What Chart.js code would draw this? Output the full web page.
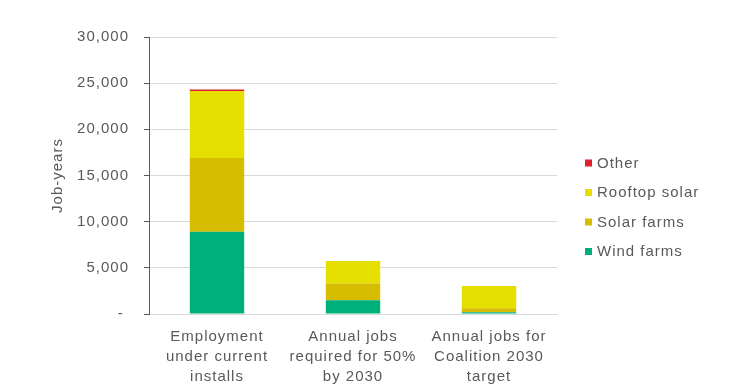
<!DOCTYPE html>
<html>
<head>
<meta charset="utf-8">
<script src="https://cdn.jsdelivr.net/npm/chart.js@4"></script>
<style>
html,body{margin:0;padding:0;background:#fff;}
#wrap{width:752px;height:386px;}
</style>
</head>
<body>
<div id="wrap"><canvas id="c" width="752" height="386"></canvas></div>
<script>
const categories = [
  ["Employment", "under current", "installs"],
  ["Annual jobs", "required for 50%", "by 2030"],
  ["Annual jobs for", "Coalition 2030", "target"]
];
const windFarms = [8900, 1500, 180];
const solarFarms = [8000, 1800, 440];
const rooftopSolar = [7250, 2450, 2400];
const other = [170, 0, 0];
const yTicks = [0, 5000, 10000, 15000, 20000, 25000, 30000];
const seriesNames = ["Wind farms", "Solar farms", "Rooftop solar", "Other"];
const seriesColors = ["#00B07B", "#D6BD00", "#E5DF00", "#E0202B"];

const FONT = "'Liberation Sans', Arial, sans-serif";
const TXT = "#595959";

const canvas = document.getElementById('c');

const spacingPlugin = {
  id: 'spacing',
  beforeDraw(chart) { chart.ctx.letterSpacing = '1px'; },
  afterDraw(chart) { chart.ctx.letterSpacing = '0px'; }
};

const legendPlugin = {
  id: 'customLegend',
  afterDraw(chart) {
    const ctx = chart.ctx;
    const ds = chart.data.datasets;
    ctx.save();
    ctx.letterSpacing = '1px';
    ctx.font = "15px " + FONT;
    ctx.textBaseline = 'middle';
    ctx.textAlign = 'left';
    const x0 = chart.chartArea.right + 28;
    const y0 = 163;
    const step = 29.5;
    let i = 0;
    for (let k = ds.length - 1; k >= 0; k--) {
      const y = y0 + i * step;
      ctx.fillStyle = ds[k].backgroundColor;
      ctx.fillRect(x0, y - 3.5, 7, 7);
      ctx.fillStyle = TXT;
      ctx.fillText(ds[k].label, x0 + 12, y + 0.5);
      i++;
    }
    ctx.restore();
  }
};

const values = [windFarms, solarFarms, rooftopSolar, other];

new Chart(canvas, {
  type: 'bar',
  data: {
    labels: categories,
    datasets: values.map((v, i) => ({
      label: seriesNames[i],
      data: v,
      backgroundColor: seriesColors[i],
      borderWidth: 0,
      barPercentage: 0.4,
      categoryPercentage: 1.0
    }))
  },
  options: {
    responsive: false,
    animation: false,
    layout: { padding: { left: 0, right: 195, top: 37, bottom: 0 } },
    plugins: {
      legend: { display: false },
      tooltip: { enabled: false }
    },
    scales: {
      x: {
        stacked: true,
        afterFit(scale) { scale.height = 72; },
        grid: { display: false, drawTicks: false },
        border: { display: true, color: '#D9D9D9', width: 1 },
        ticks: {
          color: TXT,
          font: { family: FONT, size: 15, lineHeight: 1.33 },
          padding: 13,
          maxRotation: 0,
          autoSkip: false
        }
      },
      y: {
        stacked: true,
        min: 0,
        max: 30000,
        afterBuildTicks(scale) { scale.ticks = yTicks.map(v => ({ value: v })); },
        afterFit(scale) { scale.width = 149; },
        grid: { color: '#D9D9D9', tickColor: '#595959', tickLength: 5, drawTicks: true },
        border: { display: true, color: '#595959', width: 1 },
        ticks: {
          color: TXT,
          font: { family: FONT, size: 15 },
          padding: 15,
          callback: v => v === 0 ? '- ' : v.toLocaleString('en-US')
        },
        title: {
          display: true,
          text: 'Job-years',
          color: TXT,
          font: { family: FONT, size: 15 },
          padding: { top: 49, bottom: 0 }
        }
      }
    }
  },
  plugins: [spacingPlugin, legendPlugin]
});
</script>
</body>
</html>
